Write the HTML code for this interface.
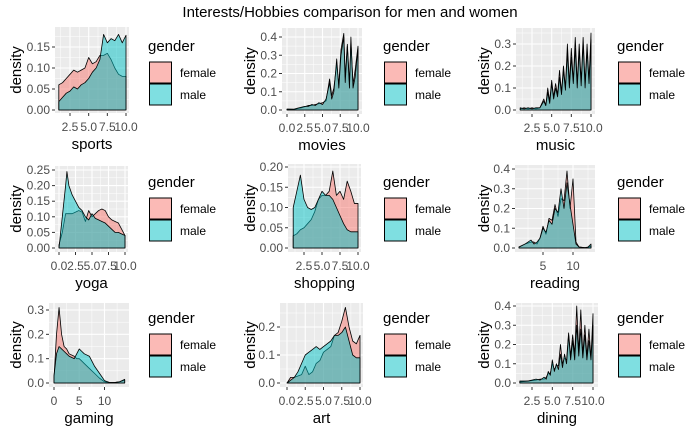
<!DOCTYPE html>
<html><head><meta charset="utf-8"><style>
html,body{margin:0;padding:0;background:#fff;}
svg{display:block;font-family:"Liberation Sans",Arial,sans-serif;}
</style></head><body>
<svg id="chart" width="700" height="432" viewBox="0 0 700 432">
<text x="350" y="17" text-anchor="middle" font-size="15" fill="#000">Interests/Hobbies comparison for men and women</text>
</svg>
<script>
const names = ["sports","movies","music","yoga","shopping","reading","gaming","art","dining"];
const sportsX = [1,1.5,2,2.5,3,3.5,4,4.5,5,5.5,6,6.5,7,7.5,8,8.5,9,9.5,10];
const sportsFemale = [0.06,0.065,0.075,0.085,0.095,0.09,0.095,0.1,0.125,0.11,0.115,0.13,0.13,0.135,0.12,0.1,0.085,0.08,0.08];
const sportsMale = [0.02,0.03,0.04,0.045,0.055,0.05,0.06,0.065,0.075,0.09,0.1,0.12,0.18,0.16,0.17,0.165,0.18,0.16,0.178];
const moviesX = [0,1,1.5,2,2.5,3,3.5,4,4.5,5,5.5,6,6.3,6.6,7,7.3,7.6,8,8.2,8.5,8.8,9,9.3,9.6,10];
const moviesFemale = [0.005,0.003,0.008,0.012,0.018,0.025,0.025,0.03,0.035,0.04,0.05,0.17,0.08,0.12,0.25,0.14,0.33,0.42,0.18,0.36,0.15,0.37,0.14,0.22,0.35];
const moviesMale = [0.005,0.005,0.01,0.015,0.02,0.02,0.03,0.025,0.04,0.03,0.06,0.15,0.06,0.1,0.28,0.12,0.3,0.4,0.15,0.35,0.12,0.4,0.12,0.18,0.34];
const musicX = [1,1.5,2,2.5,3,3.5,4,4.25,4.5,4.75,5,5.25,5.5,5.75,6,6.25,6.5,6.75,7,7.25,7.5,7.75,8,8.25,8.5,8.75,9,9.25,9.5,9.75,10];
const musicFemale = [0.005,0.01,0.005,0.01,0.005,0.01,0.05,0.02,0.1,0.04,0.135,0.06,0.12,0.07,0.18,0.08,0.2,0.1,0.3,0.12,0.28,0.13,0.33,0.12,0.3,0.13,0.33,0.12,0.3,0.13,0.35];
const musicMale = [0.01,0.005,0.01,0.005,0.01,0.01,0.04,0.02,0.08,0.03,0.12,0.05,0.1,0.06,0.15,0.07,0.18,0.09,0.26,0.1,0.24,0.12,0.28,0.1,0.27,0.11,0.3,0.1,0.27,0.12,0.32];
const yogaX = [0,0.5,1,1.2,1.5,2,2.5,3,3.5,4,4.5,5,5.5,6,6.5,7,7.5,8,8.5,9,9.5,10];
const yogaFemale = [0.01,0.05,0.11,0.11,0.11,0.11,0.115,0.12,0.115,0.085,0.12,0.1,0.11,0.12,0.125,0.12,0.1,0.09,0.085,0.08,0.06,0.04];
const yogaMale = [0.0,0.1,0.2,0.245,0.2,0.17,0.15,0.13,0.12,0.1,0.09,0.11,0.095,0.09,0.085,0.08,0.07,0.06,0.05,0.05,0.045,0.04];
const shoppingX = [1,1.5,2,2.5,3,3.5,4,4.5,5,5.5,6,6.5,7,7.5,8,8.5,9,9.5,10];
const shoppingFemale = [0.03,0.035,0.045,0.05,0.06,0.07,0.09,0.12,0.13,0.13,0.14,0.19,0.13,0.14,0.12,0.165,0.14,0.11,0.11];
const shoppingMale = [0.1,0.14,0.18,0.12,0.1,0.095,0.1,0.12,0.14,0.13,0.13,0.12,0.1,0.08,0.06,0.045,0.04,0.04,0.04];
const readingX = [1,2,3,3.5,4,4.5,5,5.5,6,6.5,7,7.5,8,8.5,9,9.5,10,10.5,11,12,12.5,13];
const readingFemale = [0.005,0.02,0.03,0.03,0.02,0.05,0.11,0.07,0.15,0.14,0.22,0.16,0.25,0.24,0.39,0.2,0.35,0.03,0.005,0.002,0.003,0.01];
const readingMale = [0.005,0.02,0.04,0.02,0.03,0.05,0.1,0.08,0.14,0.12,0.2,0.18,0.3,0.2,0.33,0.22,0.12,0.02,0.005,0.002,0.005,0.02];
const gamingX = [0,0.5,1,1.5,2,2.5,3,4,4.5,5,5.5,6,7,8,9,10,11,12,13,14];
const gamingFemale = [0.02,0.2,0.31,0.2,0.15,0.14,0.12,0.11,0.1,0.1,0.09,0.08,0.06,0.04,0.02,0.005,0.002,0.002,0.005,0.012];
const gamingMale = [0.03,0.12,0.15,0.14,0.13,0.12,0.11,0.1,0.12,0.14,0.13,0.12,0.11,0.07,0.04,0.01,0.002,0.002,0.005,0.015];
const artX = [0,0.5,1,1.5,2,2.5,3,3.5,4,4.5,5,5.5,6,6.5,7,7.5,8,8.5,9,9.5,10];
const artFemale = [0,0.02,0.02,0.025,0.03,0.06,0.03,0.04,0.07,0.08,0.11,0.12,0.13,0.17,0.18,0.22,0.27,0.2,0.15,0.14,0.17];
const artMale = [0,0.01,0.02,0.04,0.07,0.1,0.11,0.12,0.13,0.12,0.13,0.14,0.15,0.17,0.17,0.18,0.2,0.15,0.1,0.09,0.09];
const diningX = [1,2,3,3.5,4,4.25,4.5,4.75,5,5.25,5.5,5.75,6,6.25,6.5,6.75,7,7.25,7.5,7.75,8,8.25,8.5,8.75,9,9.25,9.5,9.75,10];
const diningFemale = [0.005,0.01,0.015,0.02,0.02,0.03,0.05,0.05,0.1,0.07,0.09,0.09,0.2,0.1,0.13,0.12,0.26,0.14,0.25,0.15,0.4,0.16,0.38,0.15,0.3,0.14,0.28,0.13,0.36];
const diningMale = [0.01,0.01,0.02,0.015,0.03,0.02,0.06,0.04,0.12,0.06,0.1,0.07,0.15,0.08,0.15,0.1,0.25,0.12,0.22,0.12,0.3,0.14,0.28,0.13,0.25,0.12,0.22,0.12,0.3];
const xTicksA = [2.5,5,7.5,10];
const xTickLabelsA = ["2.5","5.0","7.5","10.0"];
const xTicksB = [0,2.5,5,7.5,10];
const xTickLabelsB = ["0.0","2.5","5.0","7.5","10.0"];
const yTicks5 = [0,0.05,0.1,0.15];
const yTicks5b = [0,0.05,0.1,0.15,0.2];
const yTicks5c = [0,0.05,0.1,0.15,0.2,0.25];
const yTicks1_4 = [0,0.1,0.2,0.3,0.4];
const yTicks1_3 = [0,0.1,0.2,0.3];
const yTicks1_2 = [0,0.1,0.2];

const panels = [
 {name:"sports", xs:sportsX, f:sportsFemale, m:sportsMale, r:[55,27,129,113], xr:[2.5,70,10,126], yr:[0.15,47,110], xt:xTicksA, xl:xTickLabelsA, yt:yTicks5, dec:2, col:0},
 {name:"movies", xs:moviesX, f:moviesFemale, m:moviesMale, r:[282,28,362,114], xr:[0,287,10,358], yr:[0.4,37,110], xt:xTicksB, xl:xTickLabelsB, yt:yTicks1_4, dec:1, col:1},
 {name:"music", xs:musicX, f:musicFemale, m:musicMale, r:[516,28,595,114], xr:[2.5,532,10,591], yr:[0.3,44,110], xt:xTicksA, xl:xTickLabelsA, yt:yTicks1_3, dec:1, col:2},
 {name:"yoga", xs:yogaX, f:yogaFemale, m:yogaMale, r:[55,166,128,252], xr:[0,59,10,125], yr:[0.25,170,248], xt:xTicksB, xl:xTickLabelsB, yt:yTicks5c, dec:2, col:0},
 {name:"shopping", xs:shoppingX, f:shoppingFemale, m:shoppingMale, r:[288,164,361,252], xr:[2.5,304,10,358], yr:[0.2,167,248], xt:xTicksA, xl:xTickLabelsA, yt:yTicks5b, dec:2, col:1},
 {name:"reading", xs:readingX, f:readingFemale, m:readingMale, r:[515,165,595,252], xr:[5,543,10,573], yr:[0.4,169,248], xt:[5,10], xl:["5","10"], yt:yTicks1_4, dec:1, col:2},
 {name:"gaming", xs:gamingX, f:gamingFemale, m:gamingMale, r:[49,303,129,387], xr:[0,54,10,104.5], yr:[0.3,310,383], xt:[0,5,10], xl:["0","5","10"], yt:yTicks1_3, dec:1, col:0},
 {name:"art", xs:artX, f:artFemale, m:artMale, r:[280,303,363,387], xr:[0,287,10,360], yr:[0.2,327,383], xt:xTicksB, xl:xTickLabelsB, yt:yTicks1_2, dec:1, col:1},
 {name:"dining", xs:diningX, f:diningFemale, m:diningMale, r:[516,303,598,387], xr:[2.5,532,10,593], yr:[0.4,306,383], xt:xTicksA, xl:xTickLabelsA, yt:yTicks1_4, dec:1, col:2}
];
const NS="http://www.w3.org/2000/svg";
const svg=document.getElementById('chart');
function mk(tag,attrs,parent){const e=document.createElementNS(NS,tag);for(const k in attrs)e.setAttribute(k,attrs[k]);(parent||svg).appendChild(e);return e;}
const legendX=[148,383,617];
const ylabX=[16,250,484];
panels.forEach((p,i)=>{
  const row=Math.floor(i/3);
  const g=mk('g',{});
  
  
  const [x0,y0,x1,y1]=p.r;
  const sx=v=>p.xr[1]+(v-p.xr[0])*(p.xr[3]-p.xr[1])/(p.xr[2]-p.xr[0]);
  const sy=v=>p.yr[2]-v*(p.yr[2]-p.yr[1])/p.yr[0];
  const bg=mk('rect',{x:x0,y:y0,width:x1-x0,height:y1-y0,fill:'#EBEBEB'},g);
  
  
  // minor grid
  const xstep=p.xt[1]-p.xt[0];
  for(let k=-1;k<p.xt.length;k++){const v=p.xt[0]+(k+0.5)*xstep;const px=sx(v);if(px>x0&&px<x1)mk('line',{x1:px,x2:px,y1:y0,y2:y1,stroke:'#fff','stroke-width':0.5},g);}
  const ystep=p.yt[1]-p.yt[0];
  for(let k=0;k<p.yt.length+1;k++){const v=(k+0.5)*ystep;const py=sy(v);if(py>y0&&py<y1)mk('line',{x1:x0,x2:x1,y1:py,y2:py,stroke:'#fff','stroke-width':0.5},g);}
  p.xt.forEach((v,k)=>{const px=sx(v);mk('line',{x1:px,x2:px,y1:y0,y2:y1,stroke:'#fff','stroke-width':1.1},g);
    mk('line',{x1:px,x2:px,y1:y1,y2:y1+3,stroke:'#333','stroke-width':1},g);
    const t=mk('text',{x:px,y:y1+18,'text-anchor':'middle','font-size':12,fill:'#4D4D4D'},g);t.textContent=p.xl[k];
    
    });
  p.yt.forEach(v=>{const py=sy(v);mk('line',{x1:x0,x2:x1,y1:py,y2:py,stroke:'#fff','stroke-width':1.1},g);
    mk('line',{x1:x0-3,x2:x0,y1:py,y2:py,stroke:'#333','stroke-width':1},g);
    const t=mk('text',{x:x0-5,y:py+4,'text-anchor':'end','font-size':12,fill:'#4D4D4D'},g);t.textContent=v.toFixed(p.dec);
    
    });
  [['f','#F8766D','female'],['m','#00BFC4','male']].forEach(([key,col,lab])=>{
    const ys=p[key];let d='M'+sx(p.xs[0])+','+sy(0);
    p.xs.forEach((x,k)=>{d+=' L'+sx(x).toFixed(2)+','+sy(ys[k]).toFixed(2);});
    d+=' L'+sx(p.xs[p.xs.length-1])+','+sy(0)+' Z';
    const a=mk('path',{d:d,fill:col,'fill-opacity':0.5,stroke:'#000','stroke-width':0.8,'stroke-linejoin':'round'},g);
    
    
  });
  const xt=mk('text',{x:(x0+x1)/2,y:y1+36,'text-anchor':'middle','font-size':15,fill:'#000'},g);xt.textContent=p.name;
  
  
  const yc=(y0+y1)/2;
  const yl=mk('text',{x:ylabX[p.col],y:yc,'text-anchor':'middle','font-size':15,fill:'#000',transform:'rotate(-90 '+ylabX[p.col]+' '+yc+') translate(0 5)'},g);yl.textContent='density';
  
  
  // legend
  const lx=legendX[p.col], ly=row*136;
  const lg=mk('g',{},g);
  
  
  const lt=mk('text',{x:lx,y:51+ly,'font-size':15,fill:'#000'},lg);lt.textContent='gender';
  [['#F8766D','female',62],['#00BFC4','male',84]].forEach(([col,lab,yy])=>{
    const e=mk('g',{},lg);
    
    
    mk('rect',{x:lx+1.5,y:yy+ly,width:22,height:21,fill:'#fff'},e);
    mk('rect',{x:lx+1.5,y:yy+ly,width:22,height:21,fill:col,'fill-opacity':0.5,stroke:'#000','stroke-width':1},e);
    const tt=mk('text',{x:lx+32,y:yy+ly+15,'font-size':12,fill:'#000'},e);tt.textContent=lab;
  });
});
</script>
</body></html>
